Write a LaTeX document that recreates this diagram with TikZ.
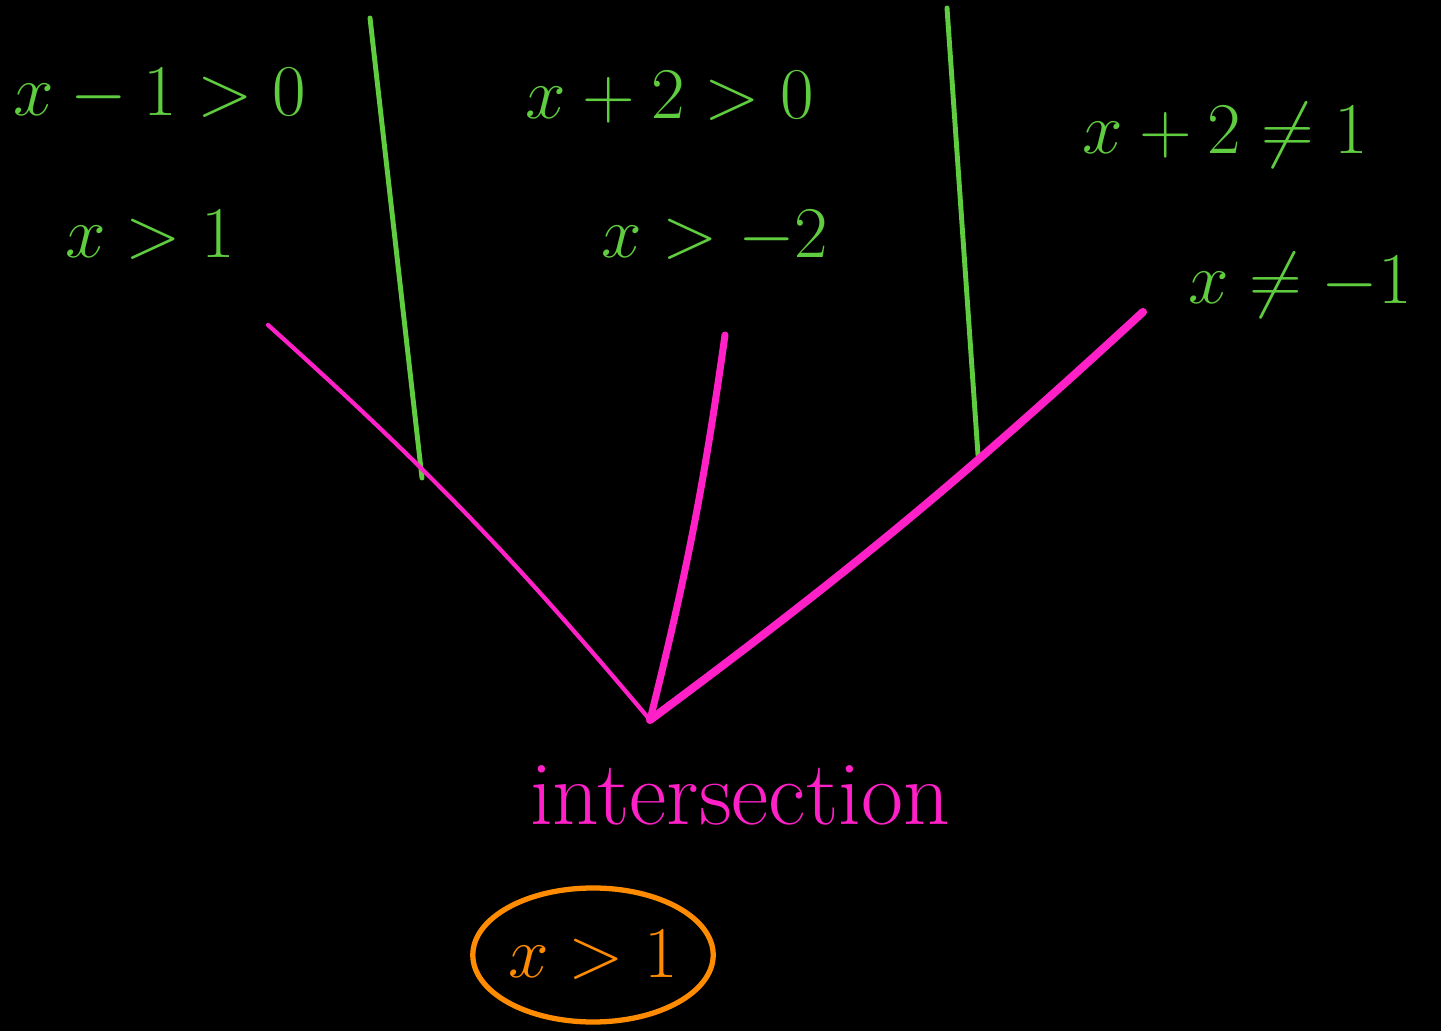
\documentclass[tikz,border=0pt]{standalone}
\usepackage{amsmath}
\usetikzlibrary{shapes.geometric}
\definecolor{chalkgreen}{RGB}{96,204,64}
\definecolor{chalkpink}{RGB}{255,32,200}
\definecolor{chalkorange}{RGB}{255,140,0}
\begin{document}
\begin{tikzpicture}
  \tikzstyle{cond} = [text=chalkgreen, font=\fontsize{20}{24}\selectfont, inner sep=1pt]
  \tikzstyle{divider} = [chalkgreen, line width=1.4pt, line cap=round]
  \tikzstyle{branch} = [chalkpink, line cap=round]
  \tikzstyle{answer} = [ellipse, draw=chalkorange, line width=1.5pt, inner sep=0pt, minimum width=2.24cm, minimum height=1.34cm, text=chalkorange, font=\fontsize{20}{24}\selectfont]

  % Board
  \fill [black] (0,0) rectangle (14.41,10.31);
  \useasboundingbox (0,0) rectangle (14.41,10.31);

  % Condition 1
  \node [cond] (c1a) at (1.60,9.36) {$x-1>0$};
  \node [cond] (c1b) at (1.50,7.96) {$x>1$};

  % Condition 2
  \node [cond] (c2a) at (6.70,9.34) {$x+2>0$};
  \node [cond] (c2b) at (7.15,7.94) {$x>-2$};

  % Condition 3
  \node [cond] (c3a) at (12.25,8.96) {$x+2\neq 1$};
  \node [cond] (c3b) at (13.00,7.46) {$x\neq -1$};

  % Dividers
  \coordinate (d1t) at (3.70,10.13);
  \coordinate (d1b) at (4.22,5.53);
  \coordinate (d2t) at (9.47,10.23);
  \coordinate (d2b) at (9.78,5.76);
  \draw [divider] (d1t) -- (d1b);
  \draw [divider] (d2t) -- (d2b);

  % Branches
  \coordinate (b1) at (2.68,7.06);
  \coordinate (b2) at (7.25,6.96);
  \coordinate (b3) at (11.43,7.19);
  \coordinate (meet) at (6.50,3.11);
  \draw [branch, line width=1.2pt] (b1) to[bend left=4] (meet);
  \draw [branch, line width=2pt] (b2) to[bend left=3] (meet);
  \draw [branch, line width=2.3pt] (b3) to[bend left=3] (meet);

  % Result
  \node [text=chalkpink, font=\fontsize{26}{30}\selectfont] (inter) at (7.40,2.36) {intersection};
  \node [answer] (res) at (5.93,0.76) {$x>1$};
\end{tikzpicture}
\end{document}
